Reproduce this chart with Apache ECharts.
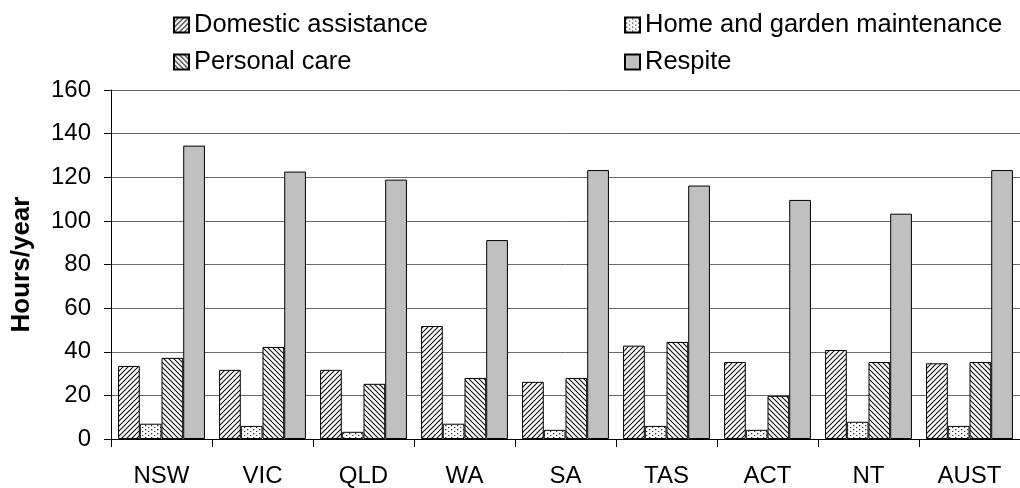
<!DOCTYPE html>
<html>
<head>
<meta charset="utf-8">
<script src="https://cdn.jsdelivr.net/npm/echarts@6/dist/echarts.min.js"></script>
<style>
  html, body { margin: 0; padding: 0; background: #fff; }
  #chart { width: 1020px; height: 488px; }
</style>
</head>
<body>
<div id="chart"></div>
<script>
const categories = ['NSW', 'VIC', 'QLD', 'WA', 'SA', 'TAS', 'ACT', 'NT', 'AUST'];
const domestic = [33.5, 31.7, 31.7, 51.8, 26.2, 42.8, 35.3, 40.8, 34.7];
const homeGarden = [7.0, 6.0, 3.3, 7.0, 4.2, 6.0, 4.2, 7.9, 6.0];
const personal = [37.2, 42.2, 25.3, 28.0, 28.0, 44.5, 19.8, 35.3, 35.3];
const respite = [134.5, 122.6, 118.9, 91.2, 123.3, 116.2, 109.6, 103.3, 123.3];
const seriesNames = ['Domestic assistance', 'Home and garden maintenance', 'Personal care', 'Respite'];
const yTicks = { min: 0, max: 160, step: 20 };

const FONT = "'Liberation Sans', Arial, sans-serif";

// Small repeating canvases used as fill patterns for the bars
function hatch(dir) {
  const s = 5;
  const c = document.createElement('canvas');
  c.width = s; c.height = s;
  const g = c.getContext('2d');
  g.fillStyle = '#fff';
  g.fillRect(0, 0, s, s);
  g.strokeStyle = '#111';
  g.lineWidth = 1.1;
  g.beginPath();
  if (dir > 0) {
    g.moveTo(-1, s + 1); g.lineTo(s + 1, -1);
    g.moveTo(-1, 1); g.lineTo(1, -1);
    g.moveTo(s - 1, s + 1); g.lineTo(s + 1, s - 1);
  } else {
    g.moveTo(-1, -1); g.lineTo(s + 1, s + 1);
    g.moveTo(s - 1, -1); g.lineTo(s + 1, 1);
    g.moveTo(-1, s - 1); g.lineTo(1, s + 1);
  }
  g.stroke();
  return { image: c, repeat: 'repeat' };
}
function dots() {
  const c = document.createElement('canvas');
  c.width = 6; c.height = 4;
  const g = c.getContext('2d');
  g.fillStyle = '#fff';
  g.fillRect(0, 0, 6, 4);
  g.fillStyle = '#333';
  g.fillRect(1, 1, 1.3, 1.3);
  g.fillRect(4, 3, 1.3, 1.3);
  return { image: c, repeat: 'repeat' };
}

const fills = [hatch(1), dots(), hatch(-1), '#c0c0c0'];
const values = [domestic, homeGarden, personal, respite];

const chart = echarts.init(document.getElementById('chart'), null, { renderer: 'canvas' });

function legendAt(name, left, top) {
  return {
    data: [name],
    left: left, top: top,
    padding: 0,
    icon: 'rect',
    itemWidth: 15, itemHeight: 15,
    selectedMode: false,
    textStyle: { fontFamily: FONT, fontSize: 25.5, color: '#000', lineHeight: 28 }
  };
}

chart.setOption({
  animation: false,
  backgroundColor: '#fff',
  textStyle: { fontFamily: FONT },
  legend: [
    legendAt(seriesNames[0], 173, 11),
    legendAt(seriesNames[2], 173, 48),
    legendAt(seriesNames[1], 624, 11),
    legendAt(seriesNames[3], 624, 48)
  ],
  grid: { left: 111, right: -10, top: 90, bottom: 48.5, containLabel: false },
  xAxis: {
    type: 'category',
    data: categories,
    axisLine: { show: true, lineStyle: { color: '#000', width: 1 } },
    axisTick: { show: true, length: 8, alignWithLabel: false, lineStyle: { color: '#000' } },
    axisLabel: { color: '#000', fontSize: 24, fontFamily: FONT, margin: 25, interval: 0 },
    splitLine: { show: false }
  },
  yAxis: {
    type: 'value',
    min: yTicks.min, max: yTicks.max, interval: yTicks.step,
    name: 'Hours/year',
    nameLocation: 'middle',
    nameGap: 76,
    nameRotate: 90,
    nameTextStyle: { color: '#000', fontSize: 26, fontWeight: 'bold', fontFamily: FONT },
    axisLine: { show: true, lineStyle: { color: '#000', width: 1 } },
    axisTick: { show: true, inside: false, length: 7, lineStyle: { color: '#000' } },
    axisLabel: { color: '#000', fontSize: 24, fontFamily: FONT, margin: 20 },
    splitLine: { show: true, lineStyle: { color: '#6a6a6a', width: 1 } }
  },
  series: seriesNames.map((name, i) => ({
    name: name,
    type: 'bar',
    data: values[i],
    barGap: '0%',
    barCategoryGap: '14%',
    itemStyle: { color: fills[i], borderColor: '#000', borderWidth: 1 },
    emphasis: { disabled: true }
  }))
});
</script>
</body>
</html>
